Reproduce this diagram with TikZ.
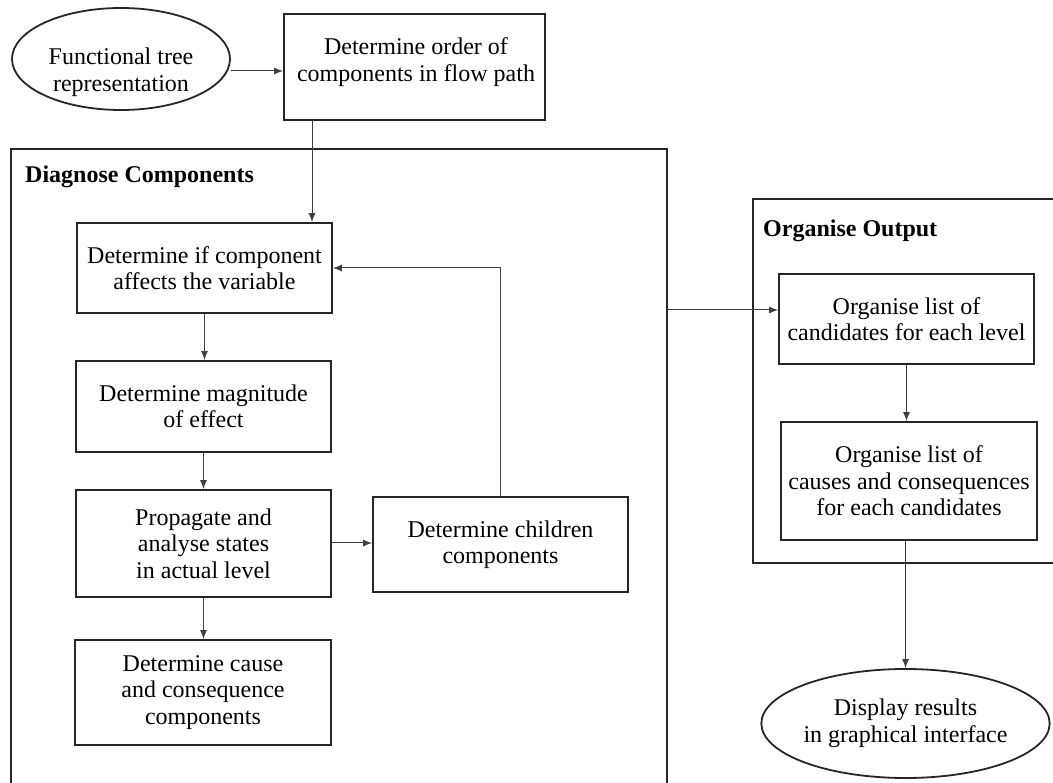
\documentclass[tikz,border=0pt]{standalone}
\usepackage{fontspec}
\setmainfont{Liberation Serif}
\usetikzlibrary{arrows.meta,shapes.geometric}

\tikzset{
  procbox/.style={draw=black!85, line width=1.8pt, rectangle, inner sep=0pt,
    align=center, font=\fontsize{24}{26.5}\selectfont},
  termbox/.style={draw=black!85, line width=1.8pt, ellipse, inner sep=0pt,
    align=center, font=\fontsize{24}{26.5}\selectfont},
  plaintext/.style={inner sep=0pt, align=center, font=\fontsize{24}{26.5}\selectfont},
  grouplabel/.style={inner sep=0pt, anchor=base west, font=\fontsize{24}{26.5}\selectfont\bfseries},
  frameline/.style={draw=black!85, line width=1.8pt},
  flow/.style={draw=black!75, line width=1pt, -{Latex[length=9pt,width=7pt]}}
}

\begin{document}
\begin{tikzpicture}[x=1pt, y=-1pt]
  \useasboundingbox (0,0) rectangle (1053,783);

  % group frames
  \draw[frameline] (11,783) -- (11,149) -- (667,149) -- (667,783);
  \draw[frameline] (1060,199) -- (753,199) -- (753,563) -- (1060,563);
  \node[grouplabel] (dglabel) at (25,183) {Diagnose Components};
  \node[grouplabel] (oglabel) at (763,237) {Organise Output};

  % top row
  \node[termbox, minimum width=218pt, minimum height=102pt] (func) at (121,59) {};
  \node[plaintext] (functxt) at (121,72) {Functional tree\\representation};
  \node[procbox, minimum width=261pt, minimum height=106pt] (order) at (414.5,67) {};
  \node[plaintext] (ordertxt) at (416,62) {Determine order of\\components in flow path};

  % diagnosis steps
  \node[procbox, minimum width=255pt, minimum height=90pt] (affects) at (204.5,268)
    {Determine if component\\affects the variable};
  \node[procbox, minimum width=255pt, minimum height=91pt] (magnitude) at (203.5,406.5)
    {Determine magnitude\\of effect};
  \node[procbox, minimum width=255pt, minimum height=107pt] (propagate) at (203.5,543.5)
    {Propagate and\\analyse states\\in actual level};
  \node[procbox, minimum width=256pt, minimum height=105pt] (cause) at (203,692.5)
    {Determine cause\\and consequence\\components};
  \node[procbox, minimum width=255pt, minimum height=95pt] (children) at (500.5,544.5)
    {Determine children\\components};

  % output steps
  \node[procbox, minimum width=255pt, minimum height=90pt] (cand) at (906.5,319)
    {Organise list of\\candidates for each level};
  \node[procbox, minimum width=256pt, minimum height=118pt] (causes) at (909,481)
    {Organise list of\\causes and consequences\\for each candidates};
  \node[termbox, minimum width=265pt, minimum height=109pt] (display) at (905.5,723.5)
    {Display results\\in graphical interface};

  % helper coordinates for offset connectors
  \coordinate (fy) at (0,71);
  \coordinate (ox) at (312,0);
  \coordinate (py) at (0,543);
  \coordinate (dgR) at (667,310);

  % connectors
  \draw[flow] (func.east |- fy) -- (order.west |- fy);
  \draw[flow] (order.south -| ox) -- (affects.north -| ox);
  \draw[flow] (affects.south) -- (affects.south |- magnitude.north);
  \draw[flow] (magnitude.south) -- (magnitude.south |- propagate.north);
  \draw[flow] (propagate.south) -- (propagate.south |- cause.north);
  \draw[flow] (propagate.east |- py) -- (children.west |- py);
  \draw[flow] (children.north) |- (affects.east);
  \draw[flow] (dgR) -- (dgR -| cand.west);
  \draw[flow] (cand.south) -- (cand.south |- causes.north);
  \draw[flow] (display.north |- causes.south) -- (display.north);
\end{tikzpicture}
\end{document}
